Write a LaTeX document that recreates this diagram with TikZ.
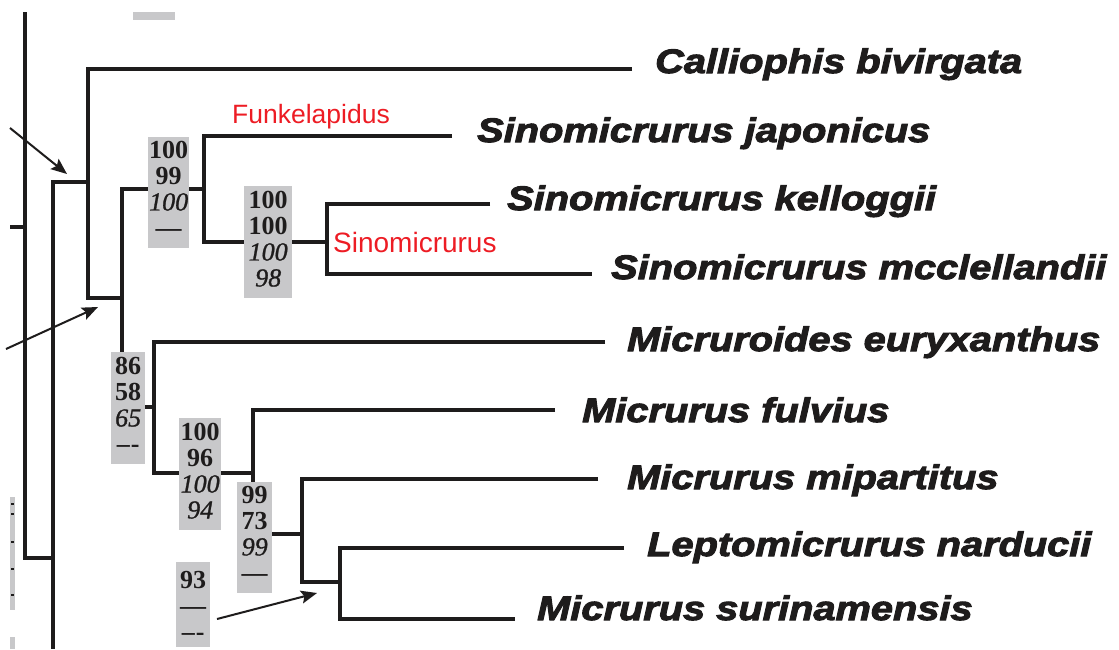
\documentclass[tikz,border=0pt]{standalone}
\usepackage{fontspec}
\usetikzlibrary{arrows.meta}
\newfontfamily\leaffont{Liberation Sans}[BoldItalicFeatures={FakeStretch=1.17,FakeBold=3}]
\newfontfamily\numfont{Liberation Serif}[ItalicFeatures={FakeBold=1}]
\newfontfamily\redfont{Liberation Sans}
\definecolor{boxgray}{RGB}{200,200,202}
\definecolor{labred}{RGB}{237,28,36}
\definecolor{ink}{RGB}{30,28,28}
\begin{document}
\begin{tikzpicture}[x=1pt,y=-1pt,
 branch/.style={draw=ink, line width=4pt, line join=miter},
 pointer/.style={draw=ink, line width=2pt, -{Stealth[length=16pt,width=13pt,inset=3pt]}},
 leaf/.style={anchor=base west, inner sep=0pt, font=\leaffont\fontsize{34}{40}\selectfont\bfseries\itshape, text=ink},
 clade/.style={anchor=base west, inner sep=0pt, text=labred},
 supbox/.style={fill=boxgray, draw=none, inner sep=0pt, anchor=north west},
 suptext/.style={anchor=north, inner sep=0pt, align=center, font=\numfont\fontsize{26}{26}\selectfont, text=ink},
]
\useasboundingbox (0,0) rectangle (1119,649);

% ---- coordinates of internal nodes and leaf tips
\coordinate (rtop) at (25,12);
\coordinate (root) at (25,558);
\coordinate (ajoin) at (53,558);
\coordinate (abot) at (53,649);
\coordinate (tickA) at (10,227);
\coordinate (tickB) at (25,227);
\coordinate (B) at (88,182);
\coordinate (C) at (122,298);
\coordinate (D) at (204,189);
\coordinate (E) at (327,242);
\coordinate (F) at (154,407);
\coordinate (G) at (253,473);
\coordinate (H) at (302,534);
\coordinate (I) at (340,582);
\coordinate (tCal) at (632,69);
\coordinate (tJap) at (452,136);
\coordinate (tKel) at (490,204);
\coordinate (tMcc) at (592,274);
\coordinate (tMic) at (605,342);
\coordinate (tFul) at (555,410);
\coordinate (tMip) at (598,479);
\coordinate (tNar) at (624,548);
\coordinate (tSur) at (515,619);

% ---- branches
\draw[branch] (rtop) -- (root) -- (ajoin);
\draw[branch] (tickA) -- (tickB);
\draw[branch] (B) -| (abot);
\draw[branch] (tCal) -| (B) |- (C);
\draw[branch] (D) -| (C) |- (F);
\draw[branch] (tJap) -| (D) |- (E);
\draw[branch] (tKel) -| (E) |- (tMcc);
\draw[branch] (tMic) -| (F) |- (G);
\draw[branch] (tFul) -| (G) |- (H);
\draw[branch] (tMip) -| (H) |- (I);
\draw[branch] (tNar) -| (I) |- (tSur);

% ---- support boxes
\node[supbox, minimum width=41pt, minimum height=111pt] (s1) at (148,137) {};
\node[supbox, minimum width=48pt, minimum height=112pt] (s2) at (244,186) {};
\node[supbox, minimum width=34pt, minimum height=112pt] (s3) at (111,352) {};
\node[supbox, minimum width=42pt, minimum height=112pt] (s4) at (179,418) {};
\node[supbox, minimum width=35pt, minimum height=111pt] (s5) at (237,482) {};
\node[supbox, minimum width=34pt, minimum height=85pt] (s6) at (176,562) {};

\node[suptext] (n1) at ([yshift=-4pt]s1.north) {\textbf{100}\\\textbf{99}\\\textit{100}\\\textbf{—}};
\node[suptext] (n2) at ([yshift=-5pt]s2.north) {\textbf{100}\\\textbf{100}\\\textit{100}\\\textit{98}};
\node[suptext] (n3) at ([yshift=-5pt]s3.north) {\textbf{86}\\\textbf{58}\\\textit{65}\\\textbf{–\kern1pt-}};
\node[suptext] (n4) at ([yshift=-5pt]s4.north) {\textbf{100}\\\textbf{96}\\\textit{100}\\\textit{94}};
\node[suptext] (n5) at ([yshift=-4pt]s5.north) {\textbf{99}\\\textbf{73}\\\textit{99}\\\textbf{—}};
\node[suptext] (n6) at ([yshift=-9pt]s6.north) {\textbf{93}\\\textbf{—}\\\textbf{–\kern1pt-}};

% ---- cropped fragments at the edges
\fill[boxgray] (133,12) rectangle (175,20);
\fill[boxgray] (10,497) rectangle (15,610);
\fill[boxgray] (10,637) rectangle (15,649);
\foreach \yy in {503,513,541,568,594} \fill[ink] (11,\yy) rectangle (14,\yy+2);

% ---- pointers
\coordinate (p1s) at (10,128);
\coordinate (p1e) at (67,174);
\coordinate (p2s) at (6,349);
\coordinate (p2e) at (98,307);
\coordinate (p3s) at (217,619);
\coordinate (p3e) at (317,593);
\draw[pointer] (p1s) -- (p1e);
\draw[pointer] (p2s) -- (p2e);
\draw[pointer] (p3s) -- (p3e);

% ---- clade names
\node[clade, font=\redfont\fontsize{26.5}{30}\selectfont] (cFunk) at (232,123) {Funkelapidus};
\node[clade, font=\redfont\fontsize{28}{30}\selectfont] (cSino) at (333,252) {Sinomicrurus};

% ---- taxa
\node[leaf] (lCal) at (655,73) {Calliophis bivirgata};
\node[leaf] (lJap) at (477,142) {Sinomicrurus japonicus};
\node[leaf] (lKel) at (507,210) {Sinomicrurus kelloggii};
\node[leaf] (lMcc) at (611,279) {Sinomicrurus mcclellandii};
\node[leaf] (lMic) at (627,351) {Micruroides euryxanthus};
\node[leaf] (lFul) at (582,422) {Micrurus fulvius};
\node[leaf] (lMip) at (627,489) {Micrurus mipartitus};
\node[leaf] (lNar) at (647,556) {Leptomicrurus narducii};
\node[leaf] (lSur) at (537,620) {Micrurus surinamensis};
\end{tikzpicture}
\end{document}
